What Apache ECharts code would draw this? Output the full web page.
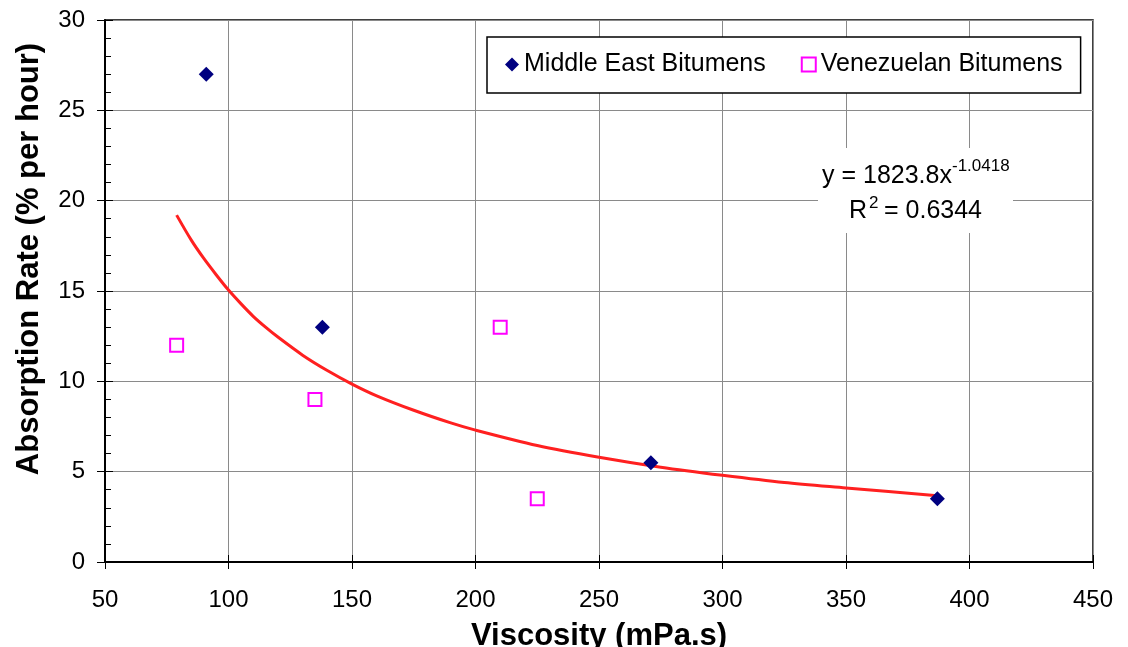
<!DOCTYPE html>
<html>
<head>
<meta charset="utf-8">
<script src="https://cdn.jsdelivr.net/npm/echarts@6/dist/echarts.min.js"></script>
<style>
  html, body { margin: 0; padding: 0; background: #fff; }
  #main { width: 1128px; height: 647px; }
</style>
</head>
<body>
<div id="main"></div>
<script>
// 数据
const middleEast = [[91, 27], [138, 13], [271, 5.5], [387, 3.5]];
const venezuelan = [[79, 12], [135, 9], [210, 13], [225, 3.5]];
// 趋势线
const trendX = [79, 85, 90, 95, 100, 105, 110, 115, 120, 130, 140, 150, 160, 175, 190, 200, 225, 250, 275, 300, 325, 350, 387];
const trendY = [19.2, 17.8, 16.8, 15.9, 15.05, 14.3, 13.6, 13.0, 12.45, 11.45, 10.6, 9.85, 9.2, 8.4, 7.7, 7.3, 6.45, 5.8, 5.25, 4.8, 4.4, 4.1, 3.67];
const xTicks = [50, 100, 150, 200, 250, 300, 350, 400, 450];
const yTicks = [0, 5, 10, 15, 20, 25, 30];

const font = 'Liberation Sans, Arial, sans-serif';
const chart = echarts.init(document.getElementById('main'));

const xRange = { type: 'value', min: xTicks[0], max: xTicks[xTicks.length - 1], interval: 50 };
const yRange = { type: 'value', min: yTicks[0], max: yTicks[yTicks.length - 1], interval: 5 };
const eqText = { fontFamily: font, fontSize: 25, fill: '#000', verticalAlign: 'middle' };
const supText = { fontFamily: font, fontSize: 17, fill: '#000', verticalAlign: 'middle' };

const option = {
  animation: false,
  grid: {
    left: 105, right: 35, top: 20, bottom: 85,
    outerBoundsMode: 'none',
    show: true, borderColor: '#000', borderWidth: 1.5
  },
  legend: {
    left: 487, top: 37,
    orient: 'horizontal',
    backgroundColor: '#fff',
    borderColor: '#000', borderWidth: 1.5,
    padding: [15, 18, 16, 18],
    itemGap: 35, itemWidth: 14, itemHeight: 14,
    textStyle: { fontFamily: font, fontSize: 25, color: '#000' },
    data: ['Middle East Bitumens', 'Venezuelan Bitumens']
  },
  xAxis: [
    Object.assign({}, xRange, {
      name: 'Viscosity (mPa.s)',
      nameLocation: 'middle', nameGap: 59,
      nameTextStyle: { fontFamily: font, fontSize: 31, fontWeight: 'bold', color: '#000' },
      axisLine: { lineStyle: { color: '#000', width: 2 } },
      axisTick: { length: 7, lineStyle: { color: '#000' } },
      axisLabel: { fontFamily: font, fontSize: 24, color: '#000', margin: 26 },
      splitLine: { lineStyle: { color: '#8a8a8a', width: 1 } }
    }),
    // 内侧刻度
    Object.assign({}, xRange, {
      position: 'bottom',
      axisLine: { show: false },
      axisTick: { inside: true, length: 7, lineStyle: { color: '#000' } },
      axisLabel: { show: false },
      splitLine: { show: false }
    })
  ],
  yAxis: [
    Object.assign({}, yRange, {
      axisLine: { show: true, lineStyle: { color: '#000', width: 2 } },
      axisTick: { show: true, length: 8, lineStyle: { color: '#000' } },
      axisLabel: { fontFamily: font, fontSize: 24, color: '#000', margin: 20 },
      splitLine: { lineStyle: { color: '#8a8a8a', width: 1 } }
    }),
    // 内侧刻度和次刻度
    Object.assign({}, yRange, {
      position: 'left',
      axisLine: { show: false },
      axisTick: { show: true, inside: true, length: 8, lineStyle: { color: '#000' } },
      minorTick: { show: true, splitNumber: 5, length: 6, lineStyle: { color: '#000' } },
      axisLabel: { show: false },
      splitLine: { show: false }
    })
  ],
  graphic: [
    // y轴标题 (偏上)
    {
      type: 'text', x: 29, y: 259, rotation: Math.PI / 2,
      style: {
        text: 'Absorption Rate (% per hour)', fontFamily: font, fontSize: 31, fontWeight: 'bold',
        fill: '#000', align: 'center', verticalAlign: 'middle'
      }
    },
    // 趋势线公式
    { type: 'rect', shape: { x: 818, y: 148, width: 195, height: 85 }, style: { fill: '#fff' }, z: 10 },
    { type: 'text', x: 822, y: 176, z: 11, style: Object.assign({ text: 'y = 1823.8x' }, eqText) },
    { type: 'text', x: 952, y: 166, z: 11, style: Object.assign({ text: '-1.0418' }, supText) },
    { type: 'text', x: 849, y: 211, z: 11, style: Object.assign({ text: 'R' }, eqText) },
    { type: 'text', x: 869, y: 203, z: 11, style: Object.assign({ text: '2' }, supText) },
    { type: 'text', x: 884, y: 211, z: 11, style: Object.assign({ text: '= 0.6344' }, eqText) }
  ],
  series: [
    {
      name: 'Trend',
      type: 'line',
      data: trendX.map((x, i) => [x, trendY[i]]),
      smooth: 0.3,
      showSymbol: false,
      lineStyle: { color: '#ff2020', width: 3 },
      z: 2,
      silent: true
    },
    {
      name: 'Middle East Bitumens',
      type: 'scatter',
      data: middleEast,
      symbol: 'diamond',
      symbolSize: 15,
      itemStyle: { color: '#000080', opacity: 1 },
      z: 3
    },
    {
      name: 'Venezuelan Bitumens',
      type: 'scatter',
      data: venezuelan,
      symbol: 'rect',
      symbolSize: 13,
      itemStyle: { color: '#fff', borderColor: '#ff00ff', borderWidth: 2, opacity: 1 },
      z: 3
    }
  ]
};

option && chart.setOption(option);
</script>
</body>
</html>
